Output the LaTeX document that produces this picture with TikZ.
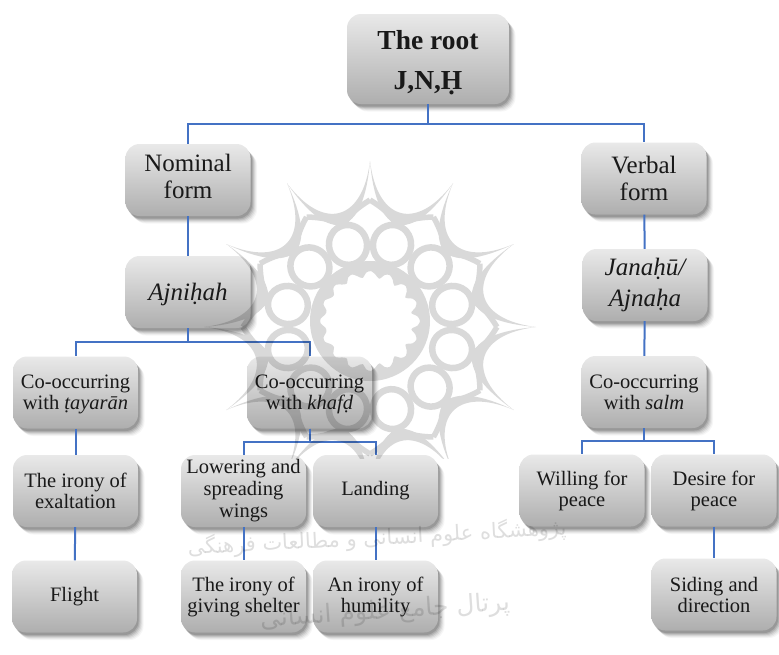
\documentclass[tikz,border=0pt]{standalone}
\usepackage{fontspec}
\setmainfont{Liberation Serif}
\newfontfamily\arabicfont[Script=Arabic]{DejaVu Sans}
\TeXXeTstate=1
\usetikzlibrary{shadows}
\definecolor{boxtop}{HTML}{E9E9E9}
\definecolor{boxbot}{HTML}{AEAEAE}
\definecolor{linkblue}{HTML}{4472C4}
\newcommand{\lowertext}[1]{\rule{0pt}{#1}}
\tikzset{
  softshadow/.style={
    general shadow={fill=black,opacity=.035,shadow xshift=6.5pt,shadow yshift=-7.5pt},
    general shadow={fill=black,opacity=.05,shadow xshift=5.5pt,shadow yshift=-6.5pt},
    general shadow={fill=black,opacity=.07,shadow xshift=4.5pt,shadow yshift=-5.5pt},
    general shadow={fill=black,opacity=.09,shadow xshift=3.5pt,shadow yshift=-4.5pt},
    general shadow={fill=black,opacity=.11,shadow xshift=2.5pt,shadow yshift=-3.5pt},
    general shadow={fill=black,opacity=.13,shadow xshift=1.5pt,shadow yshift=-2.5pt}},
  cbox/.style={softshadow,rectangle,rounded corners=14pt,top color=boxtop,bottom color=boxbot,
    draw=none,inner sep=0pt,align=center,text=black!90,font=\fontsize{20.5}{21}\selectfont,
    minimum width=125pt,minimum height=72pt},
  bigbox/.style={cbox,font=\fontsize{25}{27}\selectfont},
  rootbox/.style={cbox,minimum width=162pt,minimum height=90pt,
    font=\fontsize{27.5}{40}\selectfont\bfseries},
  janbox/.style={cbox,font=\fontsize{25}{31}\selectfont\itshape},
  link/.style={draw=linkblue,line width=2pt},
  wmark/.style={opacity=.13,text=black}
}
\begin{document}
\begin{tikzpicture}[x=1pt,y=-1pt]
\useasboundingbox (0,0) rectangle (779,654);
% connectors are hidden under the boxes' edges
\node[rootbox] (root) at (428,59) {\lowertext{26pt}The root\\J,N,Ḥ};
\node[bigbox] (nom) at (188,180) {Nominal\\form\rule[-7pt]{0pt}{0pt}};
\node[bigbox] (ver) at (644,178.5) {Verbal\\form};
\node[janbox] (ajn) at (188,292) {\lowertext{22pt}Ajniḥah};
\node[janbox] (jan) at (645,285) {Janaḥū/\\Ajnaḥa};
\node[cbox] (tay) at (75.5,392.5) {\lowertext{18pt}Co-occurring\\with \textit{ṭayarān}};
\node[cbox] (kha) at (309.5,392.5) {\lowertext{18pt}Co-occurring\\with \textit{khafḍ}};
\node[cbox] (sal) at (644,392) {Co-occurring\\with \textit{salm}};
\node[cbox] (exa) at (75.5,491) {The irony of\\exaltation};
\node[cbox] (low) at (243.5,491) {Lowering and\\[1pt]spreading\\[1pt]wings};
\node[cbox] (lan) at (375.5,491) {Landing};
\node[cbox] (wil) at (582,490.5) {Willing for\\peace};
\node[cbox] (des) at (714,490.5) {Desire for\\peace};
\node[cbox] (fli) at (74.5,596.5) {Flight};
\node[cbox] (giv) at (243.5,596.5) {The irony of\\giving shelter};
\node[cbox] (hum) at (375.5,596.5) {An irony of\\humility};
\node[cbox] (sid) at (714,594.5) {Siding and\\direction};
\draw[link] (root.south) -- ++(0,20) -| (nom.north);
\draw[link] (root.south) -- ++(0,20) -| (ver.north);
\draw[link] (nom) -- (ajn);
\draw[link] (ver) -- (jan);
\draw[link] (jan) -- (sal);
\draw[link] (ajn.south) -- ++(0,14) -| (tay.north);
\draw[link] (ajn.south) -- ++(0,14) -| (kha.north);
\draw[link] (kha.south) -- ++(0,13) -| (low.north);
\draw[link] (kha.south) -- ++(0,13) -| (lan.north);
\draw[link] (sal.south) -- ++(0,13) -| (wil.north);
\draw[link] (sal.south) -- ++(0,13) -| (des.north);
\draw[link] (tay) -- (exa);
\draw[link] (exa) -- (fli);
\draw[link] (low) -- (giv);
\draw[link] (lan) -- (hum);
\draw[link] (des) -- (sid);
% watermark rosette
\begin{scope}
\clip (150,150) rectangle (560,458);
\begin{scope}[shift={(370,327)},transparency group,opacity=.15]
\foreach \a in {0,30,...,330}{
  \fill (\a:166) .. controls (\a+4:106) and (\a+26:106) .. (\a+30:166)
        .. controls (\a+26:90) and (\a+4:90) .. cycle;
  \draw[line width=5.5pt] (\a:127) .. controls (\a+6:120) and (\a+11:114) .. (\a+15:104);
  \draw[line width=5.5pt] (\a:127) .. controls (\a-6:120) and (\a-11:114) .. (\a-15:104);
  \draw[line width=6.5pt,rotate=\a+15] (85,0) ellipse [x radius=20,y radius=19];
}
\fill[even odd rule] (0,-6) circle (60)
  plot[smooth cycle,samples=65,domain=0:354.375] ({(42+8*abs(cos(8*\x)))*cos(\x)},{(42+8*abs(cos(8*\x)))*sin(\x)-6});
\end{scope}
\end{scope}
% watermark text
\node[wmark,rotate=3,font=\arabicfont\fontsize{21}{24}\selectfont] (wa) at (377,538) {\beginR پژوهشگاه علوم انسانی و مطالعات فرهنگی\endR};
\node[wmark,rotate=4,font=\arabicfont\fontsize{25}{28}\selectfont] (wb) at (385,612) {\beginR پرتال جامع علوم انسانی\endR};
\end{tikzpicture}
\end{document}
